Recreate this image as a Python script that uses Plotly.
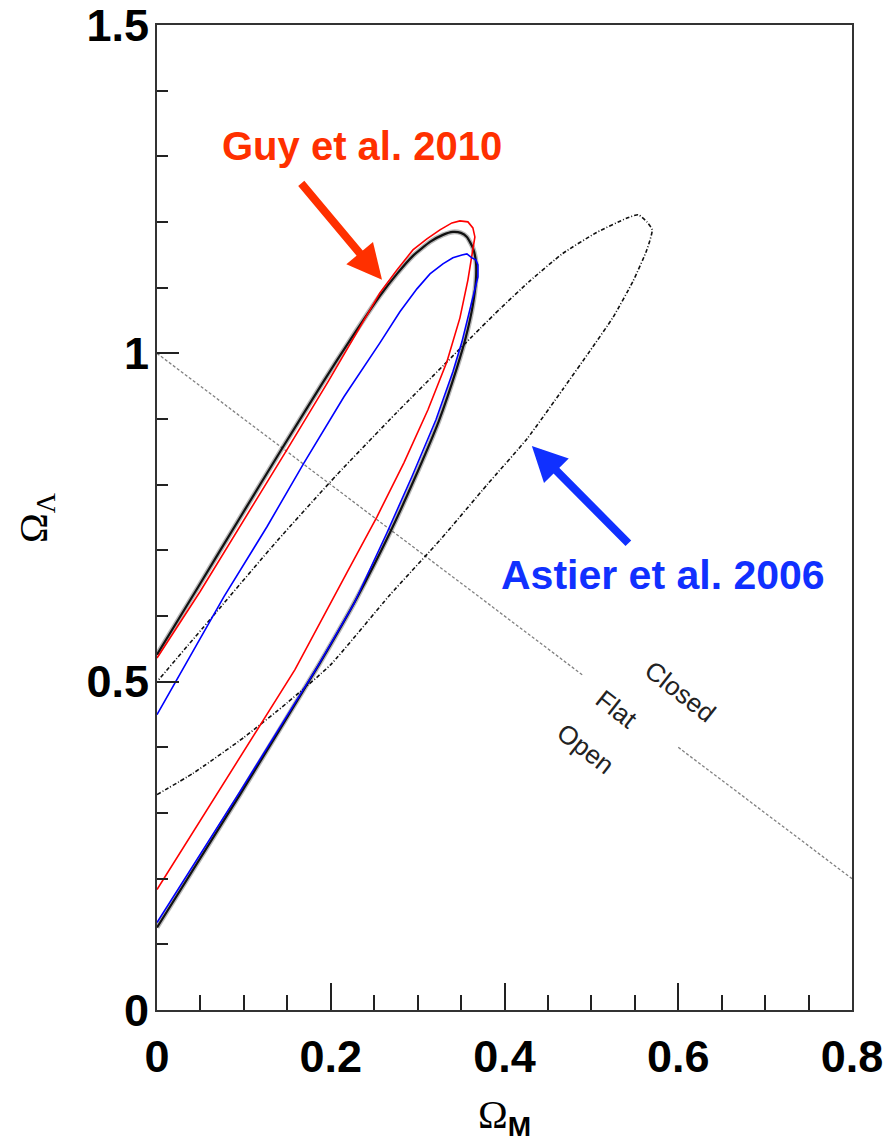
import plotly.graph_objects as go

# Confidence contours in the (Omega_M, Omega_Lambda) plane
om_black = [0.000, 0.0955, 0.1864, 0.2290, 0.2681, 0.2969, 0.3245, 0.3452, 0.3556, 0.3636,
            0.3671, 0.3671, 0.3636, 0.3567, 0.3498, 0.3406, 0.3291, 0.3142, 0.2946, 0.2762,
            0.2566, 0.2221, 0.1910, 0.1473, 0.0955, 0.0472, 0.000]
ol_black = [0.1256, 0.3280, 0.5259, 0.6248, 0.7268, 0.8105, 0.8973, 0.9779, 1.0251, 1.0738,
            1.1119, 1.1393, 1.1606, 1.1773, 1.1834, 1.1849, 1.1804, 1.1697, 1.1484, 1.1210,
            1.0876, 1.0199, 0.9559, 0.8623, 0.7497, 0.6438, 0.5411]

om_red = [0.000, 0.0794, 0.1588, 0.2186, 0.2532, 0.2842, 0.3119, 0.3337, 0.3487, 0.3579,
          0.3636, 0.3659, 0.3636, 0.3579, 0.3487, 0.3395, 0.3257, 0.3107, 0.2946, 0.2762,
          0.2566, 0.2267, 0.1968, 0.1530, 0.1013, 0.0495, 0.000]
ol_red = [0.1834, 0.3508, 0.5183, 0.6659, 0.7511, 0.8333, 0.9140, 0.9871, 1.0540, 1.1119,
          1.1575, 1.1773, 1.1910, 1.2002, 1.2017, 1.1986, 1.1880, 1.1743, 1.1575, 1.1271,
          1.0921, 1.0251, 0.9566, 0.8607, 0.7481, 0.6370, 0.5360]

om_blue = [0.000, 0.0955, 0.1841, 0.2267, 0.2647, 0.2934, 0.3211, 0.3406, 0.3510, 0.3579,
           0.3648, 0.3694, 0.3694, 0.3671, 0.3625, 0.3567, 0.3510, 0.3406, 0.3291, 0.3142,
           0.2992, 0.2796, 0.2566, 0.2152, 0.1692, 0.1266, 0.0771, 0.0322, 0.000]
ol_blue = [0.1332, 0.3326, 0.5213, 0.6187, 0.7268, 0.8120, 0.8988, 0.9718, 1.0175, 1.0540,
           1.0921, 1.1164, 1.1347, 1.1423, 1.1454, 1.1515, 1.1499, 1.1454, 1.1363, 1.1210,
           1.0982, 1.0632, 1.0160, 0.9338, 0.8333, 0.7359, 0.6294, 0.5259, 0.4498]

om_astier = [0.000, 0.041, 0.100, 0.150, 0.200, 0.268, 0.326, 0.380, 0.426, 0.467, 0.498, 0.525,
             0.548, 0.564, 0.570, 0.564, 0.554, 0.541, 0.506, 0.467, 0.429, 0.395, 0.372, 0.330,
             0.276, 0.207, 0.138, 0.069, 0.000]
ol_astier = [0.328, 0.360, 0.415, 0.468, 0.526, 0.632, 0.716, 0.800, 0.870, 0.945, 1.003, 1.055,
             1.110, 1.158, 1.188, 1.200, 1.211, 1.206, 1.184, 1.152, 1.110, 1.068, 1.038, 0.982,
             0.910, 0.815, 0.714, 0.607, 0.500]

# Flat universe line Omega_M + Omega_Lambda = 1, broken around the labels
om_flat_a = [0.0, 0.49]
ol_flat_a = [1.0, 0.51]
om_flat_b = [0.6, 0.8]
ol_flat_b = [0.4, 0.2]

x_ticks = [0, 0.2, 0.4, 0.6, 0.8]
x_ticktext = ["0", "0.2", "0.4", "0.6", "0.8"]
y_ticks = [0, 0.5, 1, 1.5]
y_ticktext = ["0", "0.5", "1", "1.5"]

RED_TXT = "#ff3000"
BLUE_TXT = "#1030ff"
SANS = "Liberation Sans, Arial"
SERIF = "Liberation Serif, Times New Roman"

fig = go.Figure()

line_flat = dict(color="#808080", width=1.3, dash="3px,2px")
fig.add_trace(go.Scatter(x=om_flat_a, y=ol_flat_a, mode="lines", line=line_flat))
fig.add_trace(go.Scatter(x=om_flat_b, y=ol_flat_b, mode="lines", line=line_flat))

fig.add_trace(go.Scatter(x=om_astier, y=ol_astier, mode="lines", line_shape="spline",
                         line=dict(color="#111111", width=1.6, dash="4px,2px,1px,2px",
                                   smoothing=0.5)))

# soft halo under the combined contour
fig.add_trace(go.Scatter(x=om_black, y=ol_black, mode="lines", line_shape="spline",
                         line=dict(color="rgba(0,0,0,0.28)", width=5, smoothing=0.5)))
fig.add_trace(go.Scatter(x=om_black, y=ol_black, mode="lines", line_shape="spline",
                         line=dict(color="#111111", width=2.2, smoothing=0.5)))
fig.add_trace(go.Scatter(x=om_red, y=ol_red, mode="lines",
                         line=dict(color="#ff0000", width=1.6)))
fig.add_trace(go.Scatter(x=om_blue, y=ol_blue, mode="lines",
                         line=dict(color="#0000ff", width=1.6)))

center = dict(xanchor="center", yanchor="middle", showarrow=False)
annotations = [
    dict(x=0.236, y=1.316, text="Guy et al. 2010", **center,
         font=dict(family=SANS, size=40, color=RED_TXT, weight="bold")),
    dict(x=0.583, y=0.663, text="Astier et al. 2006", **center,
         font=dict(family=SANS, size=41, color=BLUE_TXT, weight="bold")),
    dict(x=0.259, y=1.112, ax=0.1646, ay=1.261, axref="x", ayref="y", text="",
         showarrow=True, arrowhead=2, arrowwidth=8, arrowsize=0.87, arrowcolor=RED_TXT),
    dict(x=0.4315, y=0.859, ax=0.5443, ay=0.7085, axref="x", ayref="y", text="",
         showarrow=True, arrowhead=2, arrowwidth=8, arrowsize=0.87, arrowcolor=BLUE_TXT),
    dict(x=0.603, y=0.485, text="Closed", textangle=38, **center,
         font=dict(family=SANS, size=26, color="#222222")),
    dict(x=0.529, y=0.459, text="Flat", textangle=38, **center,
         font=dict(family=SANS, size=26, color="#222222")),
    dict(x=0.494, y=0.398, text="Open", textangle=38, **center,
         font=dict(family=SANS, size=26, color="#222222")),
    dict(xref="paper", yref="paper", x=0.5007, y=-0.109, **center,
         text="Ω<sub><span style=\"font-family:'Liberation Sans';font-weight:bold\">M</span></sub>",
         font=dict(family=SERIF, size=40, color="#000000")),
    dict(xref="paper", yref="paper", x=-0.175, y=0.4998, textangle=-90, **center,
         text="Ω<sub>Λ</sub>",
         font=dict(family=SERIF, size=40, color="#000000")),
]

tick_font = dict(family=SANS, size=45, color="#000000", weight="bold")

fig.update_layout(
    width=891, height=1148,
    margin=dict(l=157, r=39, t=25, b=138, autoexpand=False),
    paper_bgcolor="white", plot_bgcolor="white",
    showlegend=False,
    annotations=annotations,
    xaxis=dict(range=[0, 0.8], tickmode="array", tickvals=x_ticks, ticktext=x_ticktext,
               ticks="inside", ticklen=27, tickwidth=1.5, tickcolor="#222222",
               minor=dict(ticks="inside", ticklen=15, tickwidth=1.5, tickcolor="#222222",
                          dtick=0.05, tick0=0, showgrid=False),
               showline=True, mirror=True, linecolor="#333333", linewidth=2,
               showgrid=False, zeroline=False, tickfont=tick_font, fixedrange=True,
               ticklabelstandoff=6, ticklabeloverflow="allow", automargin=False),
    yaxis=dict(range=[0, 1.5], tickmode="array", tickvals=y_ticks, ticktext=y_ticktext,
               ticks="inside", ticklen=22, tickwidth=1.5, tickcolor="#222222",
               minor=dict(ticks="inside", ticklen=11, tickwidth=1.5, tickcolor="#222222",
                          dtick=0.1, tick0=0, showgrid=False),
               showline=True, mirror=True, linecolor="#333333", linewidth=2,
               showgrid=False, zeroline=False, tickfont=tick_font, fixedrange=True,
               ticklabelstandoff=-3, ticklabeloverflow="allow", automargin=False),
)

fig.write_html("out.html")
